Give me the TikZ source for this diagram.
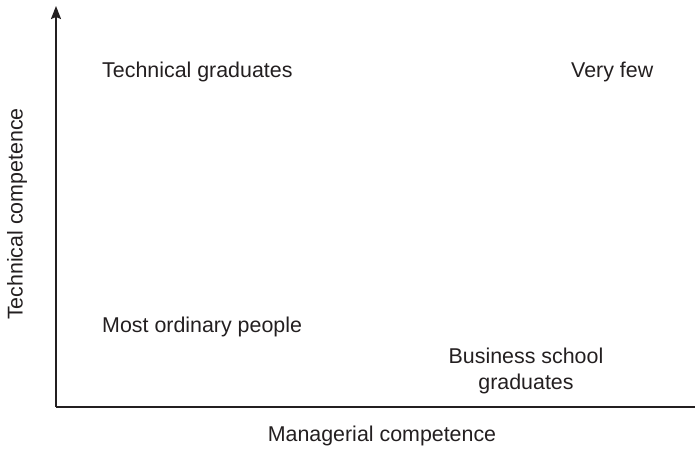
\documentclass[tikz,border=0pt]{standalone}
\usepackage{fontspec}
\setmainfont{Liberation Sans}
\usepackage{tikz}
\usetikzlibrary{arrows.meta,positioning}
\definecolor{inkx}{HTML}{231F20}
\tikzset{
  axis/.style={line width=1.8pt,inkx},
  lbl/.style={inner sep=0pt,text=inkx,font=\fontsize{21.4}{26}\selectfont,align=center},
  cell/.style={lbl,anchor=west}
}
\begin{document}
\begin{tikzpicture}[x=1pt,y=1pt]
\useasboundingbox (0,0) rectangle (695,448);
\coordinate (o) at (56,41);
\coordinate (ytop) at (56,442);
\coordinate (xend) at (695,41);
\draw[axis,-{Stealth[length=13pt,width=10pt,inset=2pt]}] (o)--(ytop);
\draw[axis] (o)--(xend);
\node[cell] (tg) at (102,376) {Technical graduates};
\node[cell] (vf) at (571,376) {Very few};
\node[cell] (mo) at (102,121) {Most ordinary people};
\node[lbl] (bs) at (526,77) {Business school\\graduates};
\node[lbl] (xl) at (382,12) {Managerial competence};
\node[lbl,rotate=90] (yl) at (17,234) {Technical competence};
\end{tikzpicture}
\end{document}
